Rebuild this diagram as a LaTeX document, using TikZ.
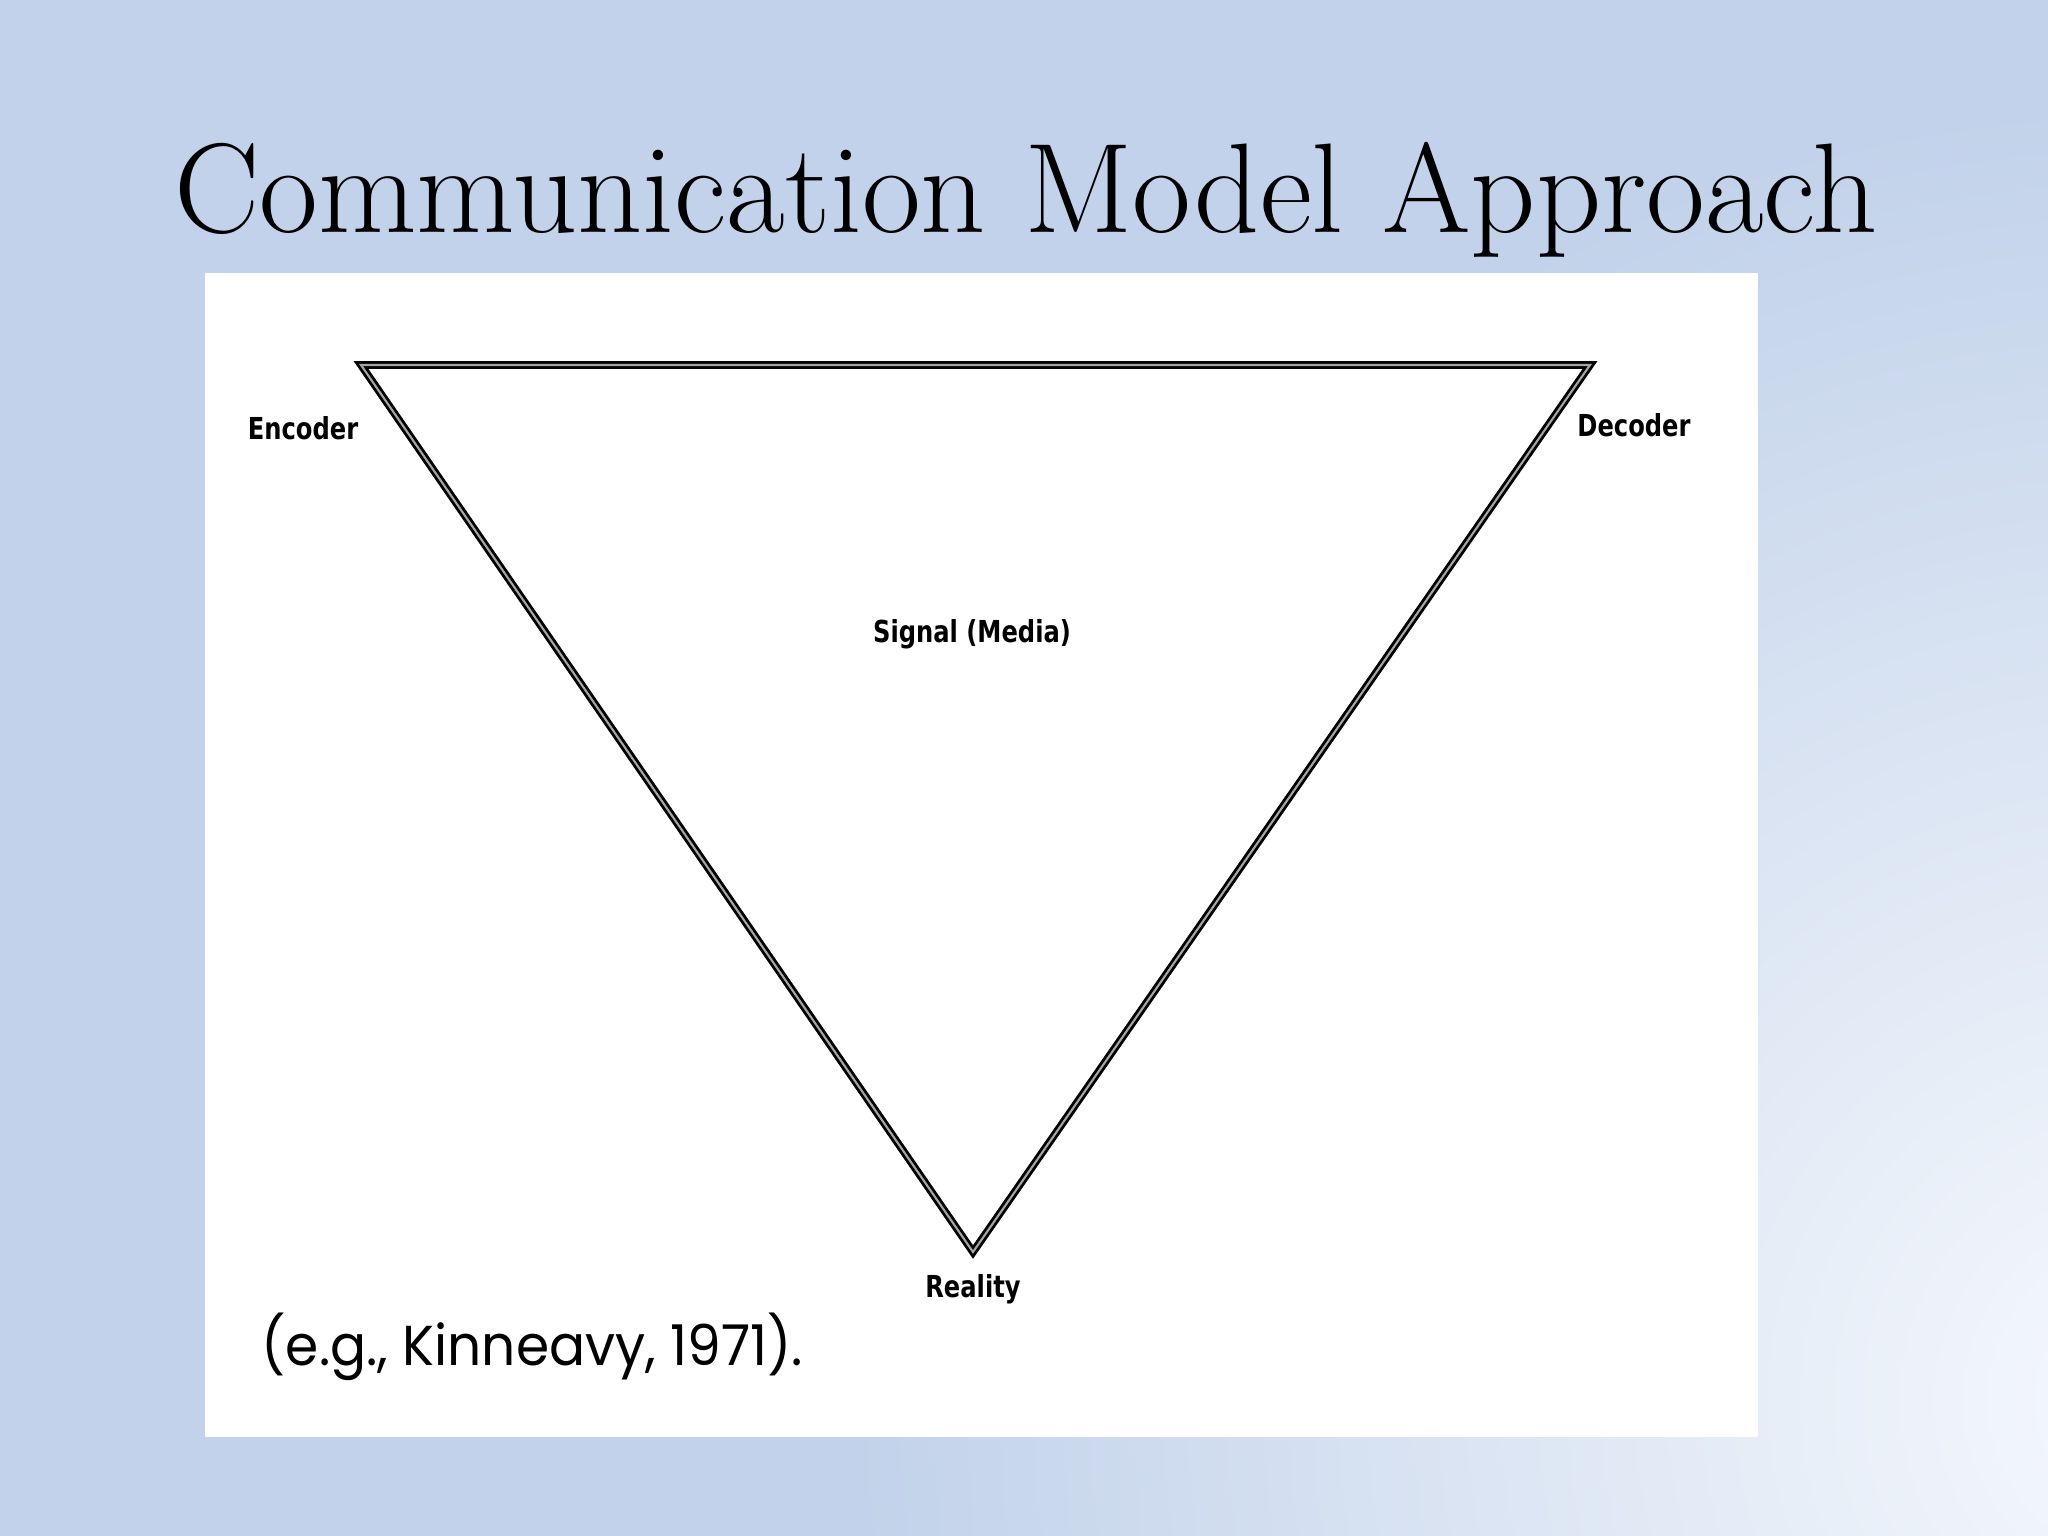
\documentclass[tikz,border=0pt]{standalone}
\usepackage{fontspec}
\newfontfamily\handfont{DejaVu Sans}[FakeStretch=0.8]
\newfontfamily\citefont{Poppins}[FakeStretch=0.95]
\usetikzlibrary{positioning}
\definecolor{slideblue}{RGB}{194,210,234}
\definecolor{slidelight}{RGB}{246,249,253}
\definecolor{edgegray}{RGB}{165,165,165}

\begin{document}
\begin{tikzpicture}[x=0.01cm, y=-0.01cm,
  lbl/.style={font=\handfont\bfseries\fontsize{8.6}{10}\selectfont, inner sep=0pt},
  edge/.style={draw=black, line width=0.8pt, double=edgegray, double distance=0.6pt, line join=miter}]
\useasboundingbox (0,0) rectangle (2048,1536);
% background of the slide
\fill[slideblue] (0,0) rectangle (2048,1536);
\begin{scope}
\clip (0,0) rectangle (2048,1536);
\shade[inner color=slidelight, outer color=slideblue] (2150,1400) circle (1300);
\end{scope}
\fill[white] (205,273) rectangle (1758,1437);
% title
\node[font=\fontsize{36.3}{40}\selectfont, anchor=base] (title) at (1026,232) {Communication Model Approach};
% corners of the triangle
\coordinate (enc) at (361,365);
\coordinate (dec) at (1590,365);
\coordinate (real) at (973,1252);
\draw[edge] (enc) -- (dec) -- (real) -- cycle;
% labels
\node[lbl] (encoder) at (303,428) {Encoder};
\node[lbl] (decoder) at (1634,425) {Decoder};
\node[lbl] (signal) at (972,634) {Signal (Media)};
\node[lbl] (reality) at (973,1289) {Reality};
\node[font=\citefont\fontsize{16}{20}\selectfont, anchor=base west, inner sep=0pt] (cite) at (261,1365) {(e.g., Kinneavy, 1971).};
\end{tikzpicture}
\end{document}
